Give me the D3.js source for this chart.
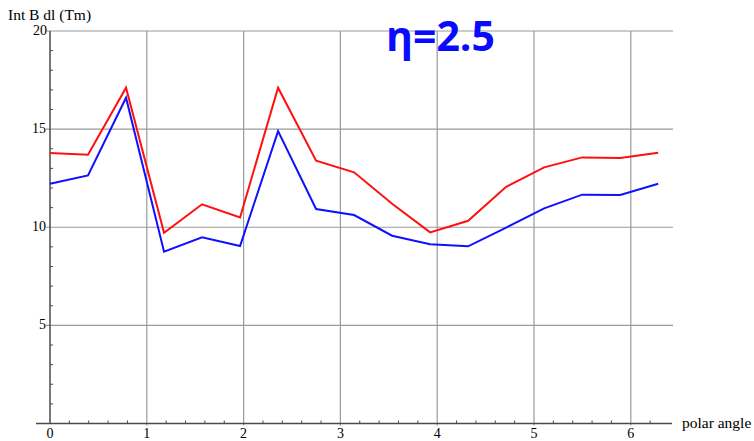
<!DOCTYPE html>
<html>
<head>
<meta charset="utf-8">
<script src="https://cdn.jsdelivr.net/npm/d3@7"></script>
<style>
  body { margin: 0; background: #fff; }
  svg { display: block; }
</style>
</head>
<body>
<div id="graph"></div>
<script>
// Data: polar angle steps of pi/8
const angles = d3.range(17).map(k => k * Math.PI / 8)
const redValues = [13.78, 13.69, 17.11, 9.72, 11.17, 10.50, 17.11, 13.39, 12.80, 11.2, 9.74, 10.33, 12.06, 13.05, 13.56, 13.53, 13.80]
const blueValues = [12.22, 12.64, 16.60, 8.75, 9.49, 9.04, 14.90, 10.93, 10.62, 9.57, 9.13, 9.03, 9.98, 10.96, 11.66, 11.64, 12.22]
const xTicks = [0, 1, 2, 3, 4, 5, 6]
const yTicks = [5, 10, 15, 20]

const total_width = 754
const total_height = 441

const svg = d3.select('#graph').append('svg')
  .attr('width', total_width)
  .attr('height', total_height)

const x = d3.scaleLinear().domain([0, 6.436]).range([50, 673])
const y = d3.scaleLinear().domain([0, 20]).range([423.5, 31])

const gridColor = '#9a9a9a'
const axisColor = '#4a4a4a'
const serif = 'Liberation Serif, Times New Roman, serif'

// grid
svg.append('g').selectAll('line.h')
  .data(yTicks)
  .enter().append('line')
  .attr('x1', x(0) - 4).attr('x2', x(6.436))
  .attr('y1', d => y(d)).attr('y2', d => y(d))
  .attr('stroke', gridColor).attr('stroke-width', 1.2)

svg.append('g').selectAll('line.v')
  .data(xTicks.slice(1))
  .enter().append('line')
  .attr('x1', d => x(d)).attr('x2', d => x(d))
  .attr('y1', y(20)).attr('y2', y(0) + 2)
  .attr('stroke', gridColor).attr('stroke-width', 1.2)

// minor ticks
const xMinor = d3.range(0, 6.4, 0.2).filter(v => Math.abs(v - Math.round(v)) > 0.01)
svg.append('g').selectAll('line')
  .data(xMinor)
  .enter().append('line')
  .attr('x1', d => x(d)).attr('x2', d => x(d))
  .attr('y1', y(0)).attr('y2', y(0) - 3)
  .attr('stroke', axisColor).attr('stroke-width', 1)

const yMinor = d3.range(1, 20).filter(v => v % 5 !== 0)
svg.append('g').selectAll('line')
  .data(yMinor)
  .enter().append('line')
  .attr('x1', x(0)).attr('x2', x(0) + 3)
  .attr('y1', d => y(d)).attr('y2', d => y(d))
  .attr('stroke', axisColor).attr('stroke-width', 1)

// axes
svg.append('line')
  .attr('x1', 36).attr('x2', 672)
  .attr('y1', y(0)).attr('y2', y(0))
  .attr('stroke', axisColor).attr('stroke-width', 1.5)
svg.append('line')
  .attr('x1', x(0)).attr('x2', x(0))
  .attr('y1', y(20)).attr('y2', y(0))
  .attr('stroke', axisColor).attr('stroke-width', 1.5)

// tick labels
svg.append('g').selectAll('text')
  .data(xTicks)
  .enter().append('text')
  .attr('x', d => x(d)).attr('y', 438)
  .attr('text-anchor', 'middle')
  .style('font-family', serif).style('font-size', '14px')
  .text(d => d)

svg.append('g').selectAll('text')
  .data(yTicks)
  .enter().append('text')
  .attr('x', d => d === 20 ? 47 : 46).attr('y', d => y(d) + 4)
  .attr('text-anchor', 'end')
  .style('font-family', serif).style('font-size', '14px')
  .text(d => d)

svg.append('text')
  .attr('x', 8).attr('y', 20)
  .style('font-family', serif).style('font-size', '15.5px')
  .text('Int B dl (Tm)')

svg.append('text')
  .attr('x', 682).attr('y', 428)
  .style('font-family', serif).style('font-size', '15.5px')
  .text('polar angle')

// lines
const line = vals => d3.line()
  .x((d, i) => x(angles[i]))
  .y(d => y(d))(vals)

svg.append('path')
  .attr('d', line(redValues))
  .attr('fill', 'none').attr('stroke', '#ff1010').attr('stroke-width', 2)

svg.append('path')
  .attr('d', line(blueValues))
  .attr('fill', 'none').attr('stroke', '#1010ff').attr('stroke-width', 2)

svg.append('text')
  .attr('x', 386).attr('y', 51)
  .style('font-family', 'Open Sans, sans-serif').style('font-weight', 'bold')
  .style('font-size', '41px').attr('fill', '#0a0aff')
  .text('η=2.5')
</script>
</body>
</html>
